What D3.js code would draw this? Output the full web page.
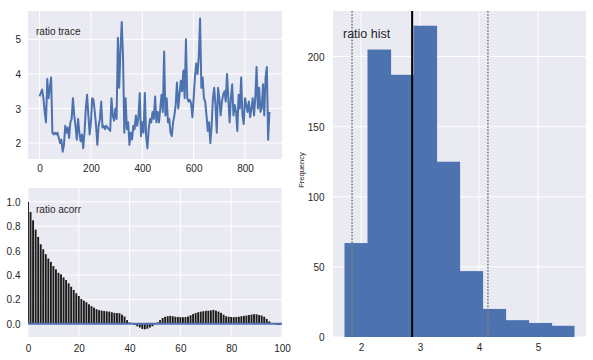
<!DOCTYPE html>
<html>
<head>
<meta charset="utf-8">
<script src="https://cdn.jsdelivr.net/npm/d3@7"></script>
<style>
html,body{margin:0;padding:0;background:#fff;}
svg{display:block;font-family:"Liberation Sans",Arial,sans-serif;}
</style>
</head>
<body>
<svg id="chart" width="593" height="360"></svg>
<script>
// ---- data ----
const traceStep = 5; // iterations between readings
const traceValues = [
3.35,3.45,3.55,3.3,2.9,2.6,3.85,3.3,3.6,3.9,
2.3,2.25,2.3,2.25,2.3,2.15,2.0,2.1,1.75,1.95,
2.5,2.3,2.45,2.15,2.6,2.7,3.3,2.8,2.5,2.1,
2.7,2.3,2.05,2.25,1.85,2.3,3.0,3.4,2.8,2.25,
2.6,3.3,3.25,2.9,2.5,1.95,2.5,2.7,3.2,2.45,
2.5,2.4,2.5,2.45,2.4,2.35,3.3,2.8,2.65,3.0,
2.7,5.05,3.6,4.7,5.5,4.5,2.3,3.3,2.4,2.6,
1.95,2.3,2.1,2.5,2.4,2.8,2.5,2.75,3.45,2.2,
2.6,2.3,3.45,2.2,1.85,2.4,2.7,2.6,2.9,2.7,
3.35,2.6,2.9,2.6,3.0,3.4,2.9,4.65,2.8,3.3,
2.6,2.7,2.3,2.2,2.6,2.8,3.1,3.75,3.0,3.4,
3.8,3.5,4.1,3.3,5.0,3.3,3.2,3.25,3.15,2.75,
3.3,3.9,4.3,4.0,4.5,5.6,3.6,3.9,3.3,3.2,
2.8,2.35,2.6,2.0,2.5,3.3,3.6,3.1,2.3,3.6,
3.3,2.8,3.2,3.4,3.5,3.2,4.0,3.3,2.6,3.3,
3.7,2.8,3.1,2.9,2.35,3.4,3.0,3.9,2.8,2.55,
3.3,3.1,2.9,3.2,2.75,3.0,3.3,2.8,3.3,4.2,
3.0,3.6,2.9,3.0,3.7,2.8,3.9,4.2,2.1,2.9
];
const traceXTicks = [0,200,400,600,800];
const traceYTicks = [2,3,4,5];

const acorrValues = [
1.0,0.916,0.848,0.772,0.712,0.652,0.611,0.571,0.535,0.508,
0.473,0.446,0.418,0.405,0.38,0.359,0.332,0.304,0.277,0.25,
0.228,0.204,0.19,0.177,0.16,0.145,0.132,0.12,0.112,0.108,
0.105,0.102,0.1,0.095,0.09,0.088,0.087,0.075,0.06,0.03,
0.012,0.004,-0.01,-0.02,-0.03,-0.042,-0.045,-0.04,-0.03,-0.02,
-0.005,0.012,0.03,0.048,0.058,0.062,0.065,0.062,0.058,0.056,
0.055,0.054,0.056,0.06,0.07,0.08,0.088,0.095,0.1,0.103,
0.106,0.108,0.11,0.114,0.108,0.1,0.09,0.075,0.062,0.058,
0.056,0.055,0.056,0.058,0.062,0.065,0.068,0.072,0.076,0.079,
0.078,0.072,0.068,0.058,0.04,0.02,0.006,-0.002,-0.01,-0.01
];
const acorrXTicks = [0,20,40,60,80,100];
const acorrYTicks = [0.0,0.2,0.4,0.6,0.8,1.0];

const histStart = 1.72;
const histBinWidth = 0.39;
const histCounts = [67,205,187,222,125,47,20,12,10,8];
const histXTicks = [2,3,4,5];
const histYTicks = [0,50,100,150,200];
const histMean = 2.867;
const histInterval = [1.848,4.152];

// ---- styles ----
const bg = "#EAEAF2", blue = "#4C72B0", txt = "#262626";
const svg = d3.select("#chart");

function panel(x0,x1,y0,y1){
  svg.append("rect").attr("x",x0).attr("y",y0).attr("width",x1-x0).attr("height",y1-y0).attr("fill",bg);
}
function grid(g, xs, ys, xTicks, yTicks, x0,x1,y0,y1){
  xTicks.forEach(t=>g.append("line").attr("x1",xs(t)).attr("x2",xs(t)).attr("y1",y0).attr("y2",y1).attr("stroke","#fff").attr("stroke-width",1));
  yTicks.forEach(t=>g.append("line").attr("y1",ys(t)).attr("y2",ys(t)).attr("x1",x0).attr("x2",x1).attr("stroke","#fff").attr("stroke-width",1));
}
function axisBottom(xs, ticks, y, fmt){
  const g = svg.append("g").attr("transform",`translate(0,${y})`)
    .call(d3.axisBottom(xs).tickValues(ticks).tickSize(0).tickPadding(0).tickFormat(fmt));
  g.select(".domain").remove();
  g.selectAll("text").attr("fill",txt).attr("font-size",10).attr("font-family","Liberation Sans, Arial, sans-serif").attr("dy","0");
}
function axisLeft(ys, ticks, x, fmt){
  const g = svg.append("g").attr("transform",`translate(${x},0)`)
    .call(d3.axisLeft(ys).tickValues(ticks).tickSize(0).tickPadding(0).tickFormat(fmt));
  g.select(".domain").remove();
  g.selectAll("text").attr("fill",txt).attr("font-size",10).attr("font-family","Liberation Sans, Arial, sans-serif").attr("dy","0.35em");
}

// ---- trace ----
{
  const x0=28,x1=282,y0=11,y1=159;
  const xs = d3.scaleLinear().domain([-45,944]).range([x0,x1]);
  const ys = d3.scaleLinear().domain([1.54,5.82]).range([y1,y0]);
  panel(x0,x1,y0,y1);
  const g = svg.append("g");
  grid(g,xs,ys,traceXTicks,traceYTicks,x0,x1,y0,y1);
  const line = d3.line().x((d,i)=>xs(i*traceStep)).y(d=>ys(d));
  g.append("path").datum(traceValues).attr("d",line).attr("fill","none").attr("stroke",blue).attr("stroke-width",2).attr("stroke-linejoin","round");
  axisBottom(xs,traceXTicks,172,d3.format("d"));
  axisLeft(ys,traceYTicks,21,d3.format("d"));
  svg.append("text").attr("x",36).attr("y",35).attr("font-size",10).attr("fill",txt).text("ratio trace");
}

// ---- acorr ----
{
  const x0=28,x1=282,y0=188,y1=337;
  const xs = d3.scaleLinear().domain([0,100]).range([x0,x1]);
  const ys = d3.scaleLinear().domain([-0.108,1.113]).range([y1,y0]);
  panel(x0,x1,y0,y1);
  const g = svg.append("g");
  grid(g,xs,ys,acorrXTicks,acorrYTicks,x0,x1,y0,y1);
  svg.append("clipPath").attr("id","acclip").append("rect").attr("x",x0).attr("y",y0).attr("width",x1-x0).attr("height",y1-y0);
  const bars = svg.append("g").attr("clip-path","url(#acclip)");
  bars.selectAll("rect").data(acorrValues).join("rect")
    .attr("x",(d,i)=>xs(i)-0.95).attr("width",1.9)
    .attr("y",d=>ys(Math.max(0,d))).attr("height",d=>Math.abs(ys(d)-ys(0)))
    .attr("fill","#1c1c1c");
  bars.append("line").attr("x1",x0).attr("x2",x1).attr("y1",ys(0)).attr("y2",ys(0)).attr("stroke",blue).attr("stroke-width",2);
  axisBottom(xs,acorrXTicks,352,d3.format("d"));
  axisLeft(ys,acorrYTicks,20.5,d3.format(".1f"));
  svg.append("text").attr("x",36).attr("y",213).attr("font-size",10).attr("fill",txt).text("ratio acorr");
}

// ---- hist ----
{
  const x0=333,x1=586,y0=11,y1=337;
  const xs = d3.scaleLinear().domain([1.525,5.815]).range([x0,x1]);
  const ys = d3.scaleLinear().domain([0,232.5]).range([y1,y0]);
  panel(x0,x1,y0,y1);
  const g = svg.append("g");
  grid(g,xs,ys,histXTicks,histYTicks,x0,x1,y0,y1);
  svg.append("g").selectAll("rect").data(histCounts).join("rect")
    .attr("x",(d,i)=>xs(histStart+i*histBinWidth))
    .attr("width",(d,i)=>xs(histStart+(i+1)*histBinWidth)-xs(histStart+i*histBinWidth)+(i<histCounts.length-1?0.6:0))
    .attr("y",d=>ys(d)).attr("height",d=>ys(0)-ys(d))
    .attr("fill",blue);
  histInterval.forEach(v=>svg.append("line").attr("x1",xs(v)).attr("x2",xs(v)).attr("y1",y0).attr("y2",y1)
    .attr("stroke","#808080").attr("stroke-width",1.7).attr("stroke-dasharray","1.6,1.6"));
  svg.append("line").attr("x1",xs(histMean)).attr("x2",xs(histMean)).attr("y1",y0).attr("y2",y1).attr("stroke","#000").attr("stroke-width",2);
  axisBottom(xs,histXTicks,351,d3.format("d"));
  axisLeft(ys,histYTicks,324.5,d3.format("d"));
  svg.append("text").attr("x",343).attr("y",38).attr("font-size",12.5).attr("fill",txt).text("ratio hist");
  svg.append("text").attr("transform","translate(304,170) rotate(-90)").attr("text-anchor","middle")
    .attr("font-size",7.5).attr("fill",txt).text("Frequency");
}
</script>
</body>
</html>
